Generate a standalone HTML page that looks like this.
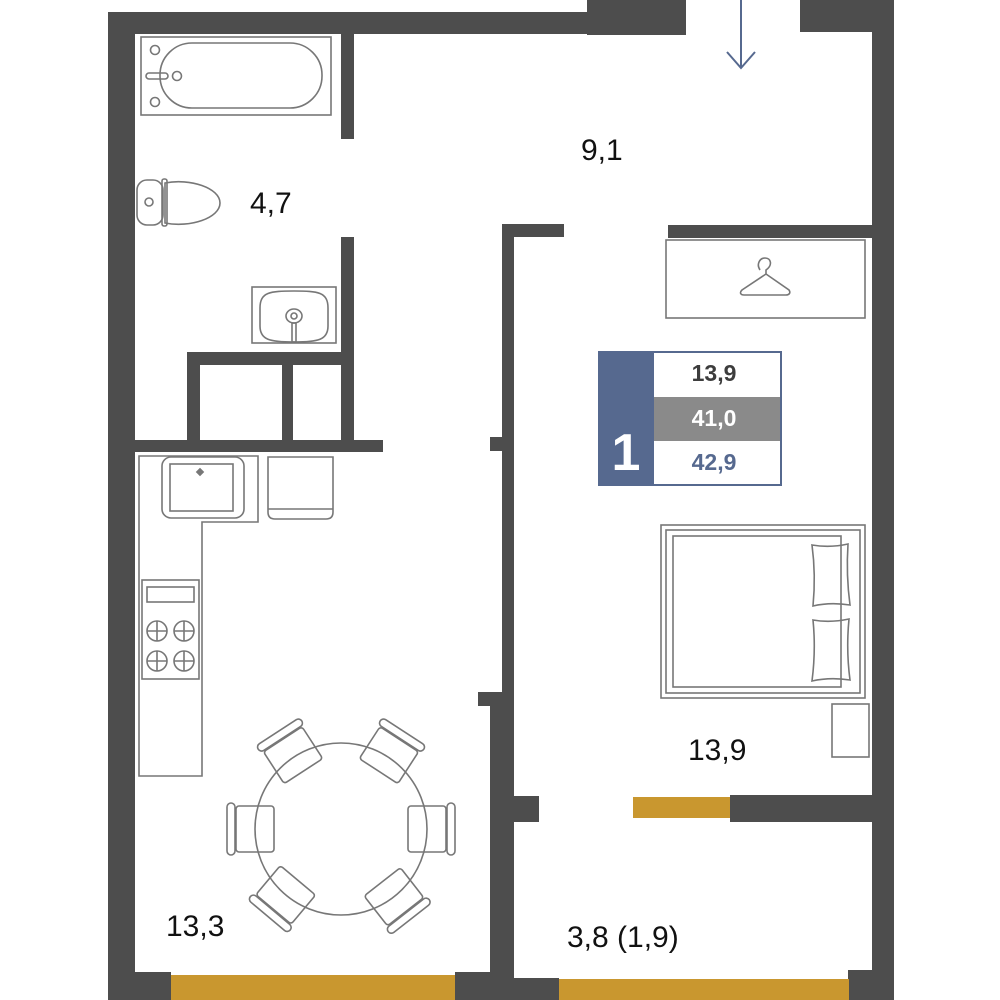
<!DOCTYPE html>
<html><head><meta charset="utf-8"><style>
html,body{margin:0;padding:0;background:#fff;}
svg{display:block;}
text{font-family:"Liberation Sans",sans-serif;}
</style></head><body>
<svg width="1000" height="1000" viewBox="0 0 1000 1000" xmlns="http://www.w3.org/2000/svg">
<defs>
<g id="chair" fill="none" stroke="#777" stroke-width="1.6">
  <rect x="-16" y="-23" width="38" height="46" rx="3"/>
  <rect x="-25" y="-26" width="8" height="52" rx="4"/>
</g>
</defs>
<g fill="#4d4d4d">
  <rect x="108" y="12" width="482" height="22"/>
  <rect x="587" y="0" width="99" height="35"/>
  <rect x="800" y="0" width="94" height="32"/>
  <rect x="108" y="12" width="27" height="988"/>
  <rect x="872" y="0" width="22" height="1000"/>
  <rect x="341" y="33" width="13" height="106"/>
  <rect x="341" y="237" width="13" height="203"/>
  <rect x="187" y="352" width="167" height="13"/>
  <rect x="187" y="352" width="13" height="88"/>
  <rect x="282" y="365" width="11" height="75"/>
  <rect x="134" y="440" width="249" height="12"/>
  <rect x="502" y="224" width="12" height="470"/>
  <rect x="502" y="224" width="62" height="13"/>
  <rect x="490" y="437" width="12" height="14"/>
  <rect x="478" y="692" width="36" height="14"/>
  <rect x="490" y="692" width="24" height="308"/>
  <rect x="514" y="796" width="25" height="26"/>
  <rect x="668" y="225" width="210" height="13"/>
  <rect x="730" y="795" width="145" height="27"/>
  <rect x="108" y="972" width="63" height="28"/>
  <rect x="455" y="972" width="59" height="28"/>
  <rect x="514" y="978" width="45" height="22"/>
  <rect x="848" y="970" width="46" height="30"/>
</g>
<g fill="#c9972f">
  <rect x="171" y="975" width="284" height="25"/>
  <rect x="559" y="979" width="290" height="21"/>
  <rect x="633" y="797" width="97" height="21"/>
</g>
<g stroke="#56698f" stroke-width="2" fill="none">
  <line x1="741" y1="0" x2="741" y2="68"/>
  <polyline points="727,52 741,68 755,52"/>
</g>
<g fill="none" stroke="#777" stroke-width="1.6">
  <rect x="141" y="37" width="190" height="78"/>
  <rect x="160" y="43" width="162" height="65" rx="32"/>
  <circle cx="155" cy="50" r="4.5"/><circle cx="155" cy="102" r="4.5"/><circle cx="177" cy="76" r="4.5"/>
  <rect x="146" y="73" width="22" height="6" rx="3"/>
  <rect x="137" y="180" width="26" height="45" rx="10"/>
  <path d="M165 183 C190 178,220 188,220 203 C220 218,190 228,165 223 Z"/>
  <rect x="162" y="179" width="5" height="47" rx="2"/>
  <circle cx="149" cy="202" r="4"/>
  <rect x="252" y="287" width="84" height="56"/>
  <path d="M260 308 C260 292,270 291,294 291 C318 291,328 292,328 308 L328 326 C328 340,318 342,294 342 C270 342,260 340,260 326 Z"/>
  <ellipse cx="294" cy="316" rx="8" ry="7"/><circle cx="294" cy="316" r="3"/>
  <rect x="292" y="323" width="4" height="19"/>
  <path d="M139 456 H258 V522 H202 V776 H139 Z"/>
  <rect x="162" y="457" width="82" height="61" rx="9"/>
  <rect x="170" y="464" width="63" height="47"/>
  <path d="M268 457 H333 V512 Q333 519 326 519 H275 Q268 519 268 512 Z"/>
  <line x1="268" y1="509" x2="333" y2="509"/>
  <rect x="142" y="580" width="57" height="99"/>
  <rect x="147" y="587" width="47" height="15"/>
  <g>
   <circle cx="157" cy="631" r="10"/><circle cx="184" cy="631" r="10"/>
   <circle cx="157" cy="661" r="10"/><circle cx="184" cy="661" r="10"/>
   <path d="M147 631H167M157 621V641M174 631H194M184 621V641M147 661H167M157 651V671M174 661H194M184 651V671"/>
  </g>
  <rect x="666" y="240" width="199" height="78"/>
  <path d="M760 270 C756 264,760 258,765 258 C771 258,773 265,766 270 L766 274 L789 290 C791 293,789 295,786 295 L744 295 C741 295,739 293,742 290 L766 274"/>
  <rect x="661" y="525" width="204" height="173"/>
  <rect x="666" y="530" width="194" height="163"/>
  <rect x="673" y="536" width="168" height="151"/>
  <path d="M812 545 Q830 548 848 544 Q846 575 850 605 Q830 602 813 606 Q816 575 812 545 Z"/>
  <path d="M813 620 Q830 623 849 619 Q846 650 850 680 Q830 677 812 681 Q816 650 813 620 Z"/>
  <rect x="832" y="704" width="37" height="53"/>
  <circle cx="341" cy="829" r="86"/>
</g>
<rect x="197" y="469" width="6" height="6" fill="#777" transform="rotate(45 200 472)"/>
<g transform="translate(341 829)">
  <use href="#chair" transform="rotate(0) translate(-89 0)"/>
  <use href="#chair" transform="rotate(57) translate(-91 0)"/>
  <use href="#chair" transform="rotate(123) translate(-91 0)"/>
  <use href="#chair" transform="rotate(180) translate(-89 0)"/>
  <use href="#chair" transform="rotate(232) translate(-89 0)"/>
  <use href="#chair" transform="rotate(-50) translate(-89 0)"/>
</g>
<rect x="599" y="352" width="182" height="133" fill="#fff" stroke="#56698f" stroke-width="2"/>
<rect x="599" y="352" width="55" height="133" fill="#56698f"/>
<rect x="654" y="397" width="126" height="44" fill="#8a8a8a"/>
<text x="626" y="470" font-size="52" font-weight="bold" fill="#fff" text-anchor="middle">1</text>
<text x="714" y="381" font-size="23" font-weight="bold" fill="#3d3d3d" text-anchor="middle">13,9</text>
<text x="714" y="426" font-size="23" font-weight="bold" fill="#fff" text-anchor="middle">41,0</text>
<text x="714" y="470" font-size="23" font-weight="bold" fill="#56698f" text-anchor="middle">42,9</text>
<g font-size="30" fill="#111">
  <text x="250" y="213">4,7</text>
  <text x="581" y="160">9,1</text>
  <text x="688" y="760">13,9</text>
  <text x="166" y="936">13,3</text>
  <text x="567" y="947">3,8 (1,9)</text>
</g>
</svg>
</body></html>
